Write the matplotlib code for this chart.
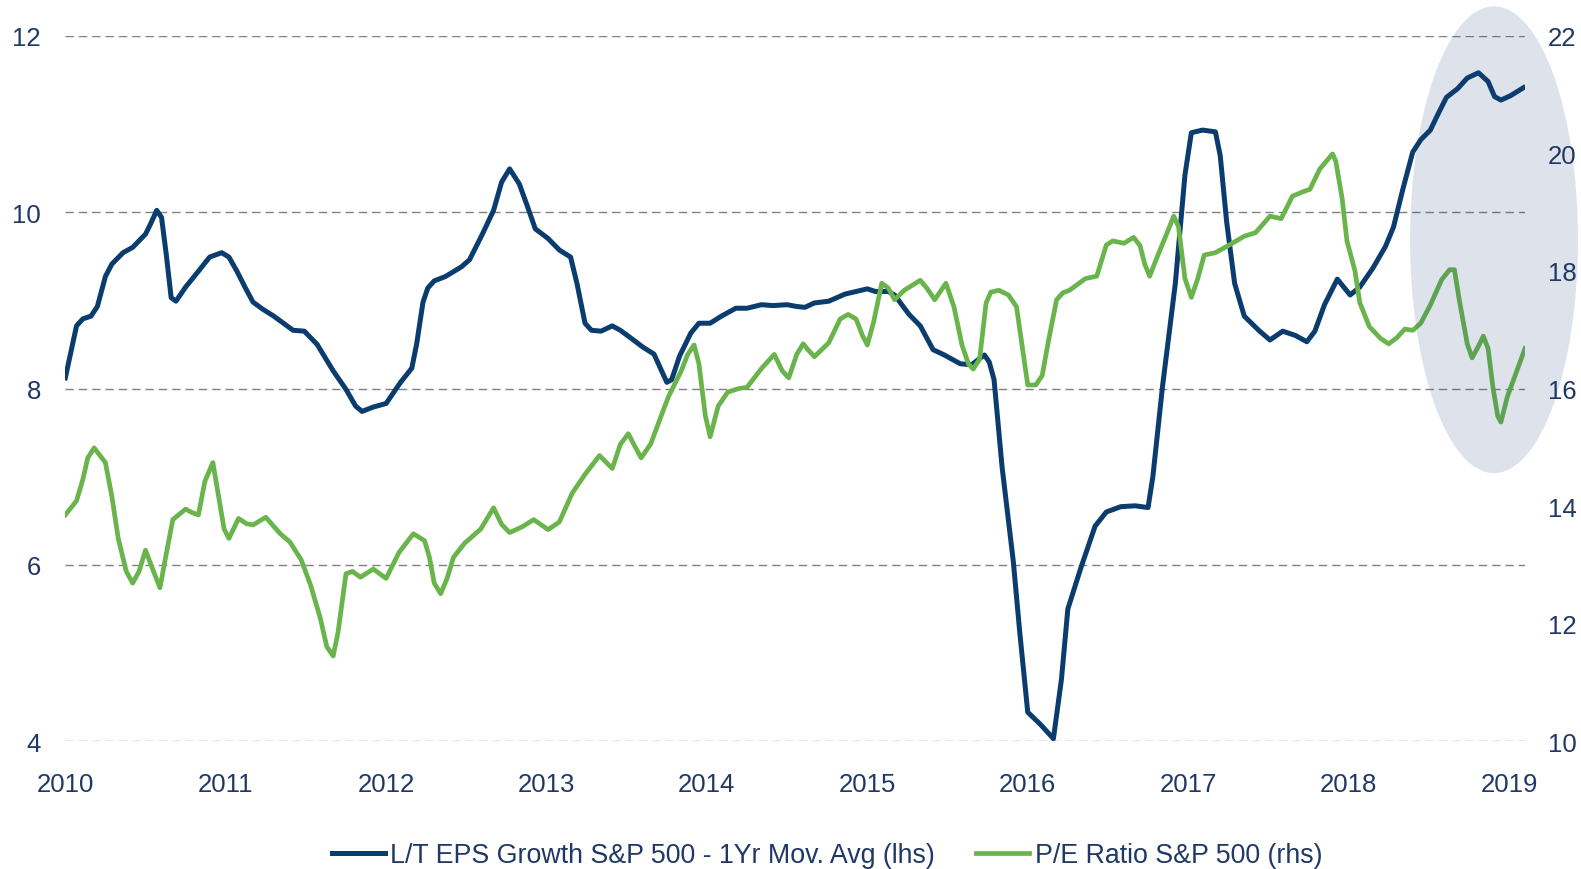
import matplotlib
matplotlib.use('Agg')
import matplotlib.pyplot as plt
from matplotlib.patches import Ellipse

plt.rcParams['font.family'] = ['Liberation Sans', 'DejaVu Sans']

# L/T EPS growth, 1yr moving average (left axis)
eps_t = [2010.00, 2010.07, 2010.11, 2010.16, 2010.20, 2010.25, 2010.29, 2010.36, 2010.42, 2010.50,
         2010.53, 2010.57, 2010.60, 2010.63, 2010.66, 2010.69, 2010.75, 2010.83, 2010.90, 2010.975,
         2011.02, 2011.07, 2011.12, 2011.17, 2011.23, 2011.30, 2011.42, 2011.49, 2011.57, 2011.67,
         2011.75, 2011.81, 2011.85, 2011.92, 2012.00, 2012.09, 2012.16, 2012.19, 2012.23, 2012.26,
         2012.30, 2012.37, 2012.47, 2012.52, 2012.60, 2012.67, 2012.72, 2012.77, 2012.83, 2012.88,
         2012.93, 2013.01, 2013.08, 2013.15, 2013.19, 2013.24, 2013.28, 2013.34, 2013.41, 2013.46,
         2013.52, 2013.60, 2013.67, 2013.71, 2013.75, 2013.78, 2013.83, 2013.90, 2013.95, 2014.02,
         2014.09, 2014.18, 2014.25, 2014.34, 2014.41, 2014.50, 2014.56, 2014.61, 2014.67, 2014.76,
         2014.86, 2015.00, 2015.05, 2015.13, 2015.17, 2015.26, 2015.33, 2015.41, 2015.48, 2015.58,
         2015.65, 2015.73, 2015.76, 2015.79, 2015.84, 2015.91, 2015.95, 2016.00, 2016.08, 2016.12,
         2016.16, 2016.21, 2016.25, 2016.33, 2016.42, 2016.49, 2016.58, 2016.67, 2016.75, 2016.78,
         2016.84, 2016.92, 2016.98, 2017.02, 2017.09, 2017.17, 2017.20, 2017.24, 2017.29, 2017.35,
         2017.44, 2017.51, 2017.59, 2017.67, 2017.74, 2017.79, 2017.85, 2017.93, 2018.01, 2018.07,
         2018.15, 2018.23, 2018.28, 2018.34, 2018.40, 2018.45, 2018.51, 2018.56, 2018.61, 2018.68,
         2018.74, 2018.81, 2018.87, 2018.91, 2018.95, 2019.01, 2019.09]
eps_v = [8.12, 8.71, 8.79, 8.82, 8.93, 9.27, 9.41, 9.54, 9.60, 9.75,
         9.86, 10.02, 9.94, 9.51, 9.03, 8.99, 9.15, 9.33, 9.49, 9.54,
         9.49, 9.33, 9.15, 8.98, 8.90, 8.82, 8.66, 8.65, 8.50, 8.20,
         7.99, 7.80, 7.74, 7.79, 7.83, 8.07, 8.23, 8.50, 8.98, 9.14,
         9.22, 9.27, 9.38, 9.46, 9.75, 10.02, 10.34, 10.49, 10.32, 10.07,
         9.81, 9.70, 9.57, 9.49, 9.19, 8.74, 8.66, 8.65, 8.71, 8.66,
         8.58, 8.47, 8.39, 8.23, 8.07, 8.10, 8.37, 8.63, 8.74, 8.74,
         8.82, 8.91, 8.91, 8.95, 8.94, 8.95, 8.93, 8.92, 8.97, 8.99,
         9.07, 9.13, 9.10, 9.10, 9.06, 8.84, 8.71, 8.44, 8.38, 8.28,
         8.27, 8.38, 8.30, 8.10, 7.11, 6.04, 5.24, 4.33, 4.19, 4.11,
         4.03, 4.70, 5.50, 5.96, 6.44, 6.60, 6.66, 6.67, 6.65, 7.00,
         8.02, 9.19, 10.42, 10.90, 10.93, 10.91, 10.64, 9.89, 9.19, 8.82,
         8.66, 8.55, 8.65, 8.60, 8.53, 8.65, 8.95, 9.24, 9.06, 9.15,
         9.36, 9.61, 9.83, 10.27, 10.68, 10.82, 10.93, 11.12, 11.30, 11.40,
         11.52, 11.58, 11.48, 11.31, 11.27, 11.32, 11.41]

# P/E ratio S&P 500 (right axis)
pe_t = [2010.00, 2010.07, 2010.11, 2010.14, 2010.18, 2010.25, 2010.29, 2010.33, 2010.38, 2010.42,
        2010.46, 2010.50, 2010.55, 2010.59, 2010.62, 2010.67, 2010.75, 2010.79, 2010.83, 2010.87,
        2010.92, 2010.95, 2010.99, 2011.02, 2011.08, 2011.13, 2011.17, 2011.25, 2011.34, 2011.40,
        2011.47, 2011.53, 2011.59, 2011.63, 2011.67, 2011.70, 2011.75, 2011.79, 2011.84, 2011.92,
        2012.00, 2012.08, 2012.17, 2012.24, 2012.27, 2012.30, 2012.34, 2012.38, 2012.42, 2012.49,
        2012.59, 2012.67, 2012.72, 2012.77, 2012.85, 2012.92, 2013.01, 2013.08, 2013.16, 2013.24,
        2013.33, 2013.41, 2013.46, 2013.51, 2013.55, 2013.59, 2013.65, 2013.71, 2013.76, 2013.84,
        2013.88, 2013.92, 2013.95, 2013.99, 2014.02, 2014.07, 2014.13, 2014.20, 2014.25, 2014.34,
        2014.42, 2014.47, 2014.51, 2014.56, 2014.60, 2014.63, 2014.67, 2014.76, 2014.83, 2014.88,
        2014.93, 2014.97, 2015.00, 2015.04, 2015.09, 2015.13, 2015.17, 2015.23, 2015.33, 2015.37,
        2015.42, 2015.49, 2015.54, 2015.59, 2015.63, 2015.66, 2015.70, 2015.74, 2015.77, 2015.82,
        2015.88, 2015.93, 2015.96, 2016.00, 2016.05, 2016.09, 2016.13, 2016.18, 2016.22, 2016.26,
        2016.36, 2016.43, 2016.49, 2016.53, 2016.60, 2016.66, 2016.70, 2016.73, 2016.76, 2016.80,
        2016.86, 2016.91, 2016.94, 2016.98, 2017.02, 2017.06, 2017.10, 2017.17, 2017.25, 2017.35,
        2017.42, 2017.51, 2017.58, 2017.65, 2017.71, 2017.76, 2017.82, 2017.90, 2017.92, 2017.96,
        2017.99, 2018.04, 2018.07, 2018.13, 2018.20, 2018.25, 2018.30, 2018.35, 2018.40, 2018.45,
        2018.51, 2018.58, 2018.63, 2018.66, 2018.69, 2018.74, 2018.77, 2018.81, 2018.84, 2018.87,
        2018.90, 2018.93, 2018.95, 2018.99, 2019.05, 2019.10]
pe_v = [13.85, 14.09, 14.46, 14.82, 14.99, 14.74, 14.17, 13.45, 12.89, 12.69,
        12.89, 13.25, 12.89, 12.61, 13.05, 13.77, 13.95, 13.89, 13.85, 14.42,
        14.74, 14.26, 13.61, 13.45, 13.79, 13.70, 13.68, 13.81, 13.53, 13.39,
        13.09, 12.65, 12.09, 11.61, 11.45, 11.85, 12.85, 12.89, 12.79, 12.93,
        12.77, 13.21, 13.53, 13.41, 13.13, 12.69, 12.51, 12.77, 13.13, 13.37,
        13.61, 13.97, 13.69, 13.55, 13.65, 13.77, 13.60, 13.73, 14.22, 14.54,
        14.86, 14.64, 15.05, 15.23, 15.02, 14.82, 15.06, 15.50, 15.86, 16.30,
        16.58, 16.74, 16.42, 15.54, 15.18, 15.70, 15.94, 16.00, 16.02, 16.34,
        16.58, 16.30, 16.18, 16.58, 16.76, 16.66, 16.54, 16.78, 17.18, 17.26,
        17.18, 16.90, 16.74, 17.14, 17.79, 17.71, 17.51, 17.67, 17.84, 17.71,
        17.51, 17.79, 17.39, 16.74, 16.42, 16.33, 16.50, 17.45, 17.64, 17.67,
        17.59, 17.39, 16.82, 16.06, 16.06, 16.22, 16.82, 17.51, 17.63, 17.67,
        17.87, 17.91, 18.44, 18.51, 18.47, 18.57, 18.43, 18.11, 17.91, 18.19,
        18.59, 18.93, 18.75, 17.87, 17.55, 17.87, 18.27, 18.31, 18.43, 18.59,
        18.65, 18.93, 18.89, 19.27, 19.34, 19.39, 19.73, 19.99, 19.87, 19.23,
        18.51, 18.00, 17.46, 17.05, 16.85, 16.76, 16.86, 17.01, 16.99, 17.11,
        17.42, 17.85, 18.02, 18.02, 17.51, 16.76, 16.52, 16.72, 16.89, 16.68,
        16.02, 15.53, 15.43, 15.86, 16.31, 16.68]

years = list(range(2010, 2020))
left_ticks = [4, 6, 8, 10, 12]
right_ticks = [10, 12, 14, 16, 18, 20, 22]

NAVY = '#0B3C6E'
GREEN = '#6AB44C'
TEXT = '#1F3864'
GRID = '#808080'

fig = plt.figure(figsize=(15.81, 8.70), dpi=100)
ax1 = fig.add_axes([65.3 / 1581, 1 - 742.3 / 870, (1525 - 65.3) / 1581, (742.3 - 36.7) / 870])
ax2 = ax1.twinx()

ax1.set_xlim(2010, 2019.1)
ax1.set_ylim(4, 12)
ax2.set_ylim(10, 22)

# dashed horizontal grid
for v in left_ticks:
    ax1.axhline(v, color=GRID, lw=1.0, dashes=(6, 3.6), zorder=0)

l1, = ax1.plot(eps_t, eps_v, color=NAVY, lw=3.6, solid_joinstyle='round',
               label='L/T EPS Growth S&P 500 - 1Yr Mov. Avg (lhs)')
l2, = ax2.plot(pe_t, pe_v, color=GREEN, lw=3.4, solid_joinstyle='round',
               label='P/E Ratio S&P 500 (rhs)')

# highlight of the latest period
ell = Ellipse((2018.907, 18.53), 1.047, 7.94, facecolor='#1C3E78', edgecolor='none',
              alpha=0.14, zorder=5)
ax2.add_patch(ell)
ell.set_clip_on(False)

for ax in (ax1, ax2):
    for s in ax.spines.values():
        s.set_visible(False)

ax1.set_xticks(years)
ax1.set_xticklabels([str(y) for y in years])
ax1.set_yticks(left_ticks)
ax2.set_yticks(right_ticks)
ax1.tick_params(axis='x', length=0, pad=22, labelsize=18.5, labelcolor=TEXT)
ax1.tick_params(axis='y', length=0, pad=17.5, labelsize=18.5, labelcolor=TEXT)
ax2.tick_params(axis='y', length=0, pad=16.6, labelsize=18.5, labelcolor=TEXT)

fig.legend(handles=[l1, l2], loc='center', bbox_to_anchor=(0.523, 0.016), ncol=2,
           frameon=False, fontsize=19.3, handlelength=1.98, handletextpad=0.2,
           columnspacing=1.55, labelcolor=TEXT, borderpad=0)

fig.savefig('out.png', dpi=100)
